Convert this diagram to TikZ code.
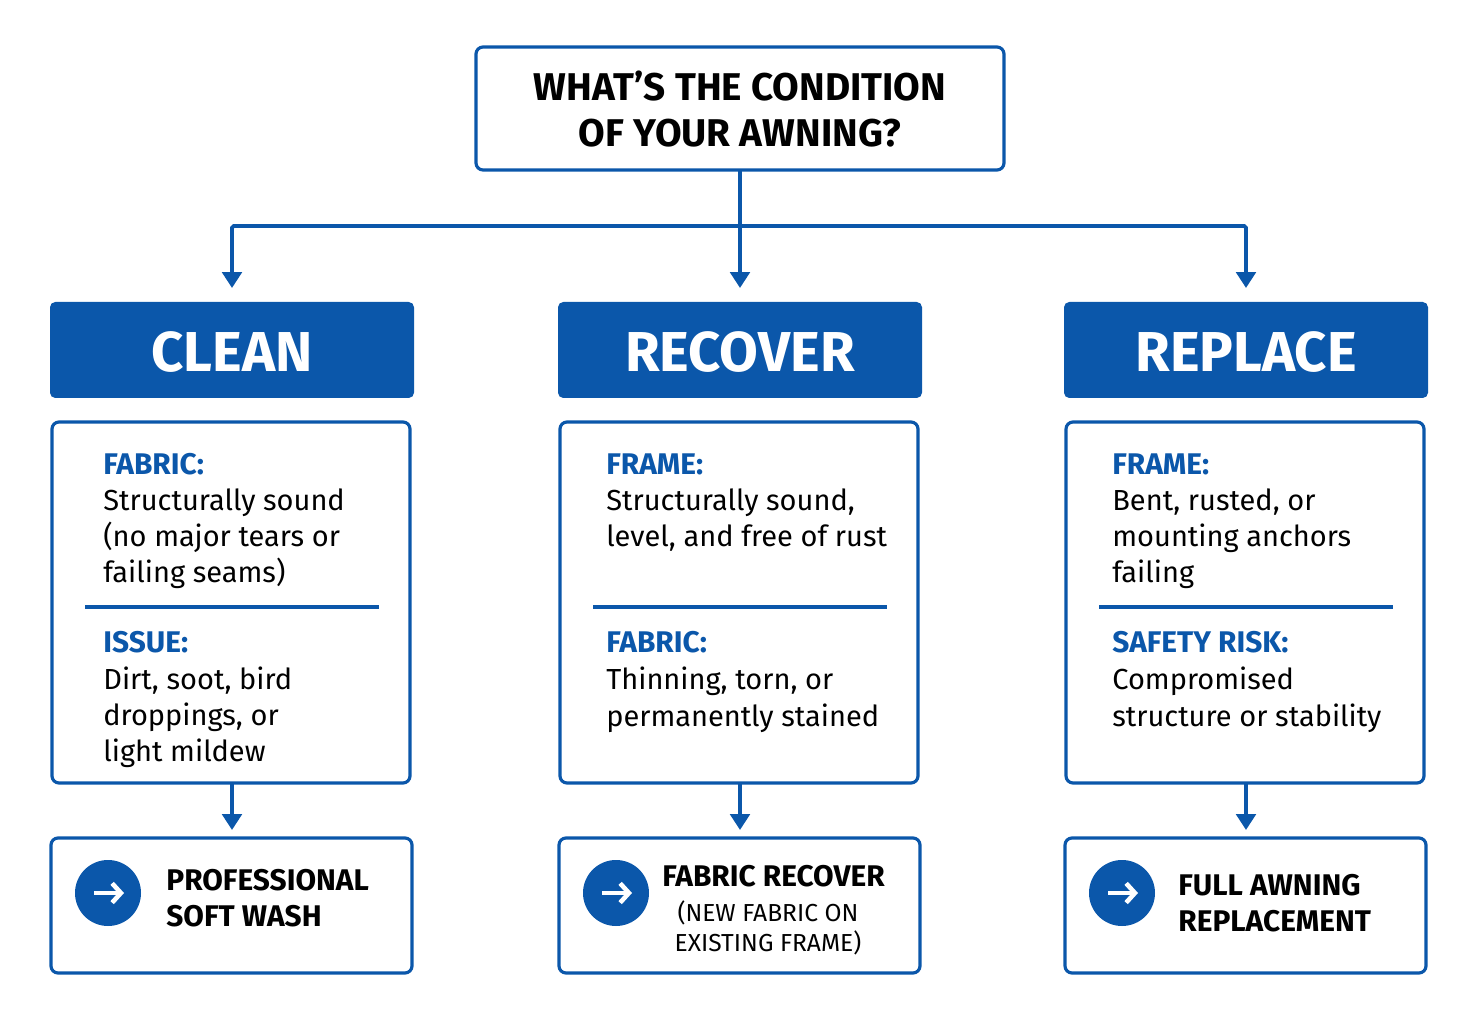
\documentclass[tikz,border=0pt]{standalone}
\usepackage{fontspec}
\setmainfont{Fira Sans}
\usetikzlibrary{arrows.meta}
\definecolor{awblue}{RGB}{11, 87, 170}

\tikzset{
  wire/.style={draw=awblue, line width=2.2pt, -{Triangle[length=9pt, width=11pt]}},
  infobox/.style={draw=awblue, line width=1.8pt, rounded corners=4pt, fill=white},
  headtext/.style={text=white, font=\bfseries\fontsize{32}{36}\selectfont},
  tag/.style={anchor=base west, text=awblue, font=\bfseries\fontsize{17}{20}\selectfont, inner sep=0pt},
  body/.style={anchor=base west, align=left, font=\fontsize{16.5}{20.5}\selectfont, inner sep=0pt},
  result/.style={anchor=west, align=left, font=\bfseries\fontsize{17}{20.5}\selectfont, inner sep=0pt},
}

\begin{document}
\begin{tikzpicture}[x=0.02cm, y=-0.02cm]
  \useasboundingbox (0,0) rectangle (1475,1023);

  % Question
  \draw[infobox] (476,47) rectangle (1004,170);
  \node[align=center, font=\bfseries\fontsize{22}{26}\selectfont] (question) at (740,109) {WHAT’S THE CONDITION\\OF YOUR AWNING?};
  \coordinate (qb) at (740,170);
  \coordinate (split) at (740,226);

  % Columns
  \foreach \name/\x/\title in {clean/232/CLEAN, recover/740/RECOVER, replace/1246/REPLACE} {
    \fill[awblue, rounded corners=3pt] (\x-182,302) rectangle (\x+182,398);
    \node[headtext] (\name) at (\x,352) {\title};
    \draw[infobox] (\x-180,422) rectangle (\x+178,783);
    \draw[awblue, line width=1.8pt] (\x-147,607) -- (\x+147,607);
    \draw[infobox] (\x-181,838) rectangle (\x+180,973);
    \fill[awblue] (\x-124,893) circle (33);
    \draw[white, line width=2.6pt, -{Straight Barb[length=5pt, width=11pt]}] (\x-138,893) -- (\x-108,893);
    \coordinate (\name-top) at (\x,288);
    \coordinate (\name-bot) at (\x,783);
    \coordinate (\name-res) at (\x,830);
  }

  % Connectors
  \draw[draw=awblue, line width=2.2pt] (qb) -- (split);
  \draw[wire, rounded corners=1pt] (split) -| (clean-top);
  \draw[wire, rounded corners=1pt] (split) -| (replace-top);
  \draw[wire] (split) -- (recover-top);
  \foreach \name in {clean, recover, replace}
    \draw[wire] (\name-bot) -- (\name-res);

  % Clean text
  \node[tag] (cleanf) at (103,475) {FABRIC:};
  \node[body] (cleanfb) at (103,583) {Structurally sound\\(no major tears or\\failing seams)};
  \node[tag] (cleani) at (103,653) {ISSUE:};
  \node[body] (cleanib) at (103,762) {Dirt, soot, bird\\droppings, or\\light mildew};
  \node[result] (cleanr) at (166,898) {PROFESSIONAL\\SOFT WASH};

  % Recover text
  \node[tag] (recf) at (606,475) {FRAME:};
  \node[body] (recfb) at (606,547) {Structurally sound,\\level, and free of rust};
  \node[tag] (recfa) at (606,653) {FABRIC:};
  \node[body] (recfab) at (606,726) {Thinning, torn, or\\permanently stained};
  \node[result] (recr) at (662,876) {FABRIC RECOVER};
  \node[align=center, font=\fontsize{14}{17}\selectfont] (recrs) at (768,928) {(NEW FABRIC ON\\EXISTING FRAME)};

  % Replace text
  \node[tag] (repf) at (1112,475) {FRAME:};
  \node[body] (repfb) at (1112,583) {Bent, rusted, or\\mounting anchors\\failing};
  \node[tag] (reps) at (1112,653) {SAFETY RISK:};
  \node[body] (repsb) at (1112,726) {Compromised\\structure or stability};
  \node[result] (repr) at (1178,903) {FULL AWNING\\REPLACEMENT};
\end{tikzpicture}
\end{document}
